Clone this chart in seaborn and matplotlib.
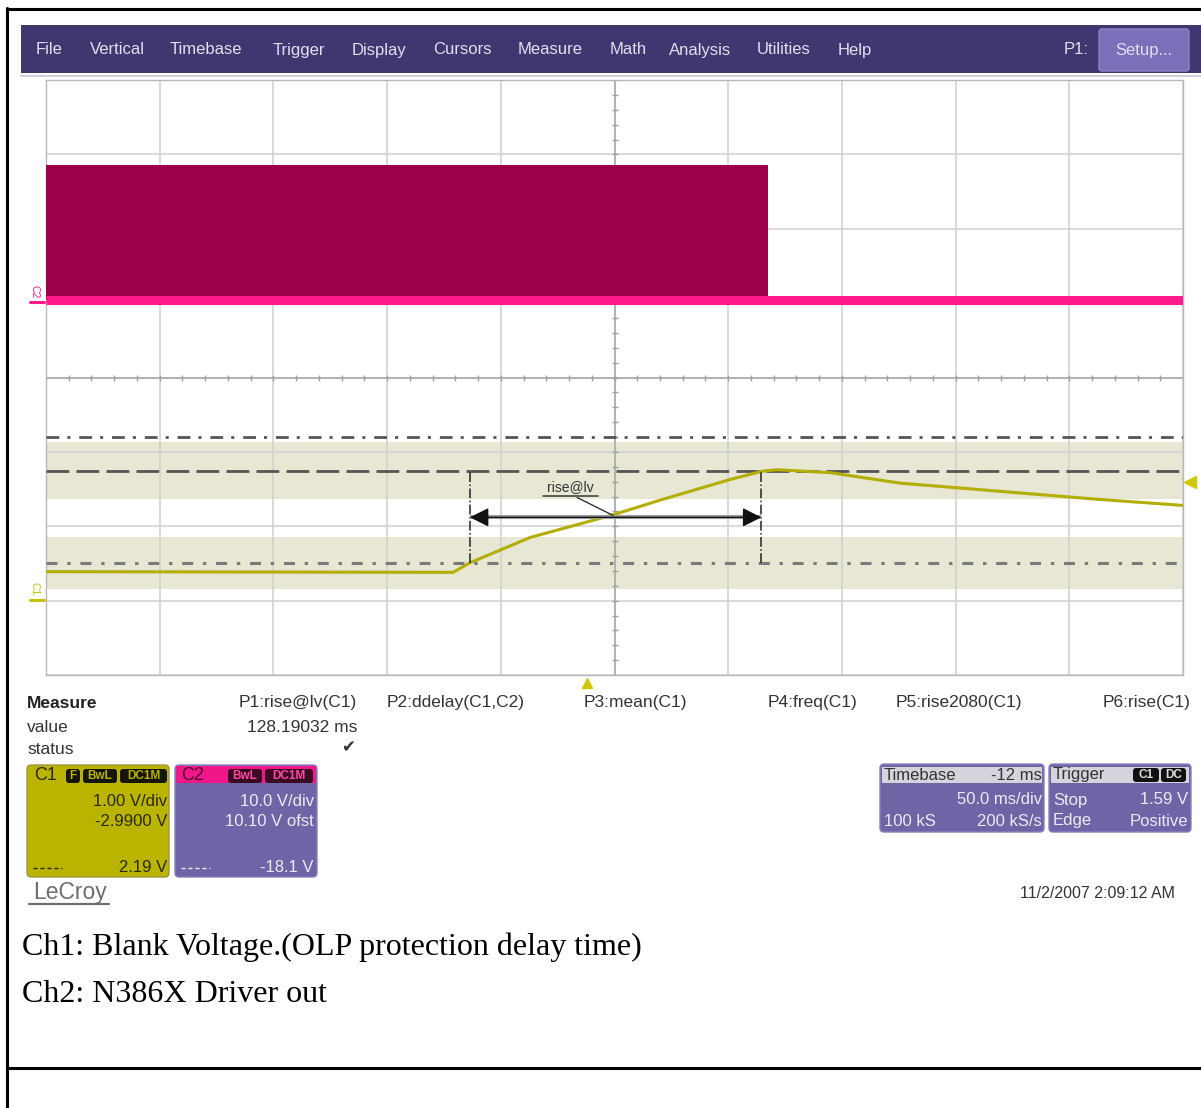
import numpy as np
import pandas as pd
import matplotlib
matplotlib.use("Agg")
import matplotlib.pyplot as plt
from matplotlib.patches import Rectangle, FancyBboxPatch
import seaborn as sns

# ------------------------------------------------------------------
# scope settings
# ------------------------------------------------------------------
ms_per_div = 50.0
trig_delay = -12.0                 # ms, trigger sits left of centre
c1_vdiv, c1_offset = 1.00, -2.99   # V/div, V
c2_vdiv, c2_offset = 10.0, 10.10

# C1: blank voltage (time relative to trigger, ms / volts)
c1_time = [-238, -59, -51.5, -25, 11, 33, 63, 77, 83.5, 107, 137.5, 181.5, 225.5, 262]
c1_volt = [0.38, 0.37, 0.50, 0.84, 1.14, 1.35, 1.62, 1.73, 1.75, 1.71, 1.57, 1.46, 1.35, 1.27]

# C2: N386X driver out, switching burst envelope
c2_time = [-238, 79.5, 79.5, 262]
c2_top = [18.5, 18.5, 0.3, 0.3]
c2_base = [0.3, 0.3, 0.3, 0.3]

# measurement levels on C1 (V)
lvl_top = 2.19
lvl_ref = 1.73
lvl_low = 0.50
band_upper = [1.35, 2.12]
band_lower = [0.14, 0.84]
rise_start = -51.6
rise_value = 128.19032             # ms
rise_arrow_v = 1.11
trig_level = 1.59
label_time, label_volt = -7.3, 1.42
leader_time, leader_volt = 11.4, 1.135

# texts
menu_items = ["File", "Vertical", "Timebase", "Trigger", "Display", "Cursors",
              "Measure", "Math", "Analysis", "Utilities", "Help"]
meas_names = ["P1:rise@lv(C1)", "P2:ddelay(C1,C2)", "P3:mean(C1)",
              "P4:freq(C1)", "P5:rise2080(C1)", "P6:rise(C1)"]
meas_values = ["128.19032 ms", "", "", "", "", ""]
meas_status = ["\u2714", "", "", "", "", ""]
c1_info = ["1.00 V/div", "-2.9900 V", "2.19 V"]
c2_info = ["10.0 V/div", "10.10 V ofst", "-18.1 V"]
tb_info = ["-12 ms", "50.0 ms/div", "100 kS", "200 kS/s"]
trig_info = ["Stop", "1.59 V", "Edge", "Positive"]
timestamp = "11/2/2007 2:09:12 AM"
captions = ["Ch1: Blank Voltage.(OLP protection delay time)", "Ch2: N386X Driver out"]

# ------------------------------------------------------------------
sns.set_theme(style="white")
plt.rcParams["font.family"] = ["Liberation Sans", "DejaVu Sans"]

W, H = 1201, 1108
fig = plt.figure(figsize=(W / 100, H / 100), dpi=100)
fig.patch.set_facecolor("white")

# pixel-space layer for the scope UI
ui = fig.add_axes([0, 0, 1, 1])
ui.set_xlim(0, W)
ui.set_ylim(H, 0)
ui.axis("off")


def box(x, y, w, h, fc, ec="none", r=4, lw=1.0, z=1):
    ui.add_patch(FancyBboxPatch((x, y), w, h, boxstyle=f"round,pad=0,rounding_size={r}",
                                fc=fc, ec=ec, lw=lw, zorder=z))


def txt(x, y, s, size=12.5, color="#222222", ha="left", weight="normal", z=3, family=None):
    kw = {}
    if family is not None:
        kw["family"] = family
    ui.text(x, y, s, fontsize=size, color=color, ha=ha, va="center",
            fontweight=weight, zorder=z, **kw)


# outer table borders
ui.plot([7, 7], [8, H], color="black", lw=2.2)
ui.plot([7, W], [9, 9], color="black", lw=2.2)
ui.plot([7, W], [1068, 1068], color="black", lw=2.2)

# menu bar
ui.add_patch(Rectangle((21, 25), W - 21, 48, fc="#403670", ec="none"))
ui.plot([21, W], [75.5, 75.5], color="#cfcfda", lw=1.5)
menu_x = [36, 90, 170, 273, 352, 433, 518, 610, 669, 757, 838]
for name, x in zip(menu_items, menu_x):
    txt(x, 50, name, size=12, color="#e2e0ee")
txt(1064, 50, "P1:", size=12, color="#e2e0ee")
box(1099, 29, 90, 42, "#7a6fb8", ec="#8e84c8", r=3)
txt(1144, 50, "Setup...", size=12, color="#e2e0ee", ha="center")

# ------------------------------------------------------------------
# graticule / traces
# ------------------------------------------------------------------
px0, py0, px1, py1 = 46, 80, 1183, 675
ax = fig.add_axes([px0 / W, 1 - py1 / H, (px1 - px0) / W, (py1 - py0) / H])
x_center = -trig_delay
x_lo, x_hi = x_center - 5 * ms_per_div, x_center + 5 * ms_per_div
c1_lo = -c1_offset - 4 * c1_vdiv
ax.set_xlim(x_lo, x_hi)
ax.set_ylim(c1_lo, c1_lo + 8 * c1_vdiv)
ax.set_xticks(np.arange(x_lo, x_hi + 1, ms_per_div))
ax.set_yticks(c1_lo + np.arange(9) * c1_vdiv)
ax.set_axisbelow(True)
ax.grid(True, color="#d0d0d0", lw=1.1)
ax.tick_params(length=0, labelbottom=False, labelleft=False)
for sp in ax.spines.values():
    sp.set_color("#b8b8b8")
    sp.set_linewidth(1.0)
ax.set_facecolor("white")

# centre cross with minor ticks
ax.axvline(x_center, color="#a8a8a8", lw=1.1, zorder=0.6)
ax.axhline(-c1_offset, color="#a8a8a8", lw=1.1, zorder=0.6)
minor_x = np.arange(x_lo, x_hi + 0.1, ms_per_div / 5)
ax.plot(minor_x, np.full(len(minor_x), -c1_offset), ls="none", marker="|",
        ms=5, mew=1, color="#a0a0a0", zorder=0.7)
minor_y = c1_lo + np.arange(0, 8.01, 0.2) * c1_vdiv
ax.plot(np.full(len(minor_y), x_center), minor_y, ls="none", marker="_",
        ms=5, mew=1, color="#a0a0a0", zorder=0.7)

# measurement bands and level lines
for lo, hi in (band_lower, band_upper):
    ax.axhspan(lo, hi, color="#e7e7d3", lw=0, zorder=0.2)
ax.axhline(lvl_top, color="#555555", lw=2, ls=(0, (4.6, 2.9, 1.1, 3.2)), zorder=3)
ax.axhline(lvl_ref, color="#555555", lw=2, ls=(0, (8.2, 2.6)), zorder=3)
ax.axhline(lvl_low, color="#7a7a7a", lw=2.2, ls=(0, (3.6, 3.2, 1.1, 3.2)), zorder=3)

# C1 trace
c1_df = pd.DataFrame({"time": c1_time, "volt": c1_volt})
sns.lineplot(data=c1_df, x="time", y="volt", ax=ax, color="#b4ae00", lw=2.2, zorder=5)
ax.set_xlabel("")
ax.set_ylabel("")

# rise@lv marker
rise_end = rise_start + rise_value
ax.vlines([rise_start, rise_end], lvl_low, lvl_ref, colors="#222222", lw=1.1,
          linestyles="dashdot", zorder=6)
ax.hlines(rise_arrow_v, rise_start, rise_end, color="#a0a0a0", lw=3, zorder=6)
ax.annotate("", xy=(rise_start, rise_arrow_v), xytext=(rise_end, rise_arrow_v),
            arrowprops=dict(arrowstyle="<|-|>,head_length=0.9,head_width=0.45",
                            color="#111111", lw=1, shrinkA=0, shrinkB=0,
                            mutation_scale=13), zorder=7)
ax.annotate("rise@lv", xy=(leader_time, leader_volt), xytext=(label_time, label_volt),
            ha="center", va="bottom", fontsize=10, color="#333333", zorder=7,
            arrowprops=dict(arrowstyle="-", color="#333333", lw=1, shrinkA=0, shrinkB=0,
                            relpos=(0.5, 0)))
ax.plot([label_time - 12, label_time + 12], [label_volt - 0.02] * 2, color="#444444", lw=1.2, zorder=7)

# trigger markers and C1 ground
ax.plot([0], [-0.014], transform=ax.get_xaxis_transform(), marker="^", ms=7,
        color="#cfc800", clip_on=False)
ax.plot([1.006], [trig_level], transform=ax.get_yaxis_transform(), marker="<", ms=9,
        color="#cfc800", clip_on=False)
ax.plot([-0.014, -0.002], [0, 0], transform=ax.get_yaxis_transform(), color="#c8c000",
        lw=2.2, clip_on=False)
ax.annotate("C1", xy=(-0.01, 0), xycoords=ax.get_yaxis_transform(), xytext=(0, 3),
            textcoords="offset points", ha="center", va="bottom", fontsize=7.5,
            color="#c8c000", rotation=270)

# C2 on its own vertical scale
ax2 = ax.twinx()
ax2.set_ylim(-c2_offset - 4 * c2_vdiv, -c2_offset + 4 * c2_vdiv)
ax2.set_yticks([])
for sp in ax2.spines.values():
    sp.set_visible(False)
ax2.fill_between(c2_time, c2_base, c2_top, color="#9c004b", lw=0, zorder=2)
ax2.plot(c2_time, c2_base, color="#ff1a8c", lw=6.5, zorder=3, solid_capstyle="butt")
ax2.plot([-0.014, -0.002], [0, 0], transform=ax2.get_yaxis_transform(), color="#ff1a8c",
         lw=2.2, clip_on=False)
ax2.annotate("C2", xy=(-0.01, 0), xycoords=ax2.get_yaxis_transform(), xytext=(0, 3),
             textcoords="offset points", ha="center", va="bottom", fontsize=7.5,
             color="#ff1a8c", rotation=270)

# ------------------------------------------------------------------
# measure row
# ------------------------------------------------------------------
txt(27, 703, "Measure", weight="bold", size=12.5)
txt(27, 727, "value", size=12.5, color="#333333")
txt(27, 750, "status", size=12.5, color="#333333")
col_right = [357, 525, 687, 857, 1022, 1190]
for name, val, st, xr in zip(meas_names, meas_values, meas_status, col_right):
    txt(xr, 703, name, size=12.5, color="#333333", ha="right")
    if val:
        txt(xr, 727, val, size=12.5, color="#333333", ha="right")
    if st:
        txt(xr - 2, 748, st, size=12, color="#333333", ha="right")

# C1 channel box
box(27, 765, 142, 112, "#bab300", ec="#9c9740")
txt(34, 775, "C1", size=13, color="#2a2a00")
for label, x0, w in (("F", 66, 14), ("BwL", 83, 34), ("DC1M", 120, 47)):
    box(x0, 769, w, 14, "#151500", r=3, z=2)
    txt(x0 + w / 2, 776, label, size=8.5, color="#bab300", ha="center", weight="bold")
txt(167, 801, c1_info[0], size=12, color="#2a2a00", ha="right")
txt(167, 822, c1_info[1], size=12, color="#2a2a00", ha="right")
txt(167, 867, c1_info[2], size=12, color="#2a2a00", ha="right")
ui.plot([33, 62], [868, 868], color="#2a2a00", lw=1, ls=(0, (3, 2)))

# C2 channel box
box(175, 765, 142, 112, "#6f64a6", ec="#8a80c0")
ui.add_patch(Rectangle((176, 766), 140, 17, fc="#f0178a", ec="none", zorder=1.5))
txt(181, 775, "C2", size=13, color="#5a0030")
for label, x0, w in (("BwL", 228, 34), ("DC1M", 265, 48)):
    box(x0, 769, w, 14, "#3a0a22", r=3, z=2)
    txt(x0 + w / 2, 776, label, size=8.5, color="#ff4aa0", ha="center", weight="bold")
txt(314, 801, c2_info[0], size=12, color="#ecebf5", ha="right")
txt(314, 821, c2_info[1], size=12, color="#ecebf5", ha="right")
txt(314, 867, c2_info[2], size=12, color="#ecebf5", ha="right")
ui.plot([181, 210], [868, 868], color="#ecebf5", lw=1, ls=(0, (3, 2)))

# LeCroy logo
txt(33, 892, "LeCroy", size=16.5, color="#6e6e6e")
ui.plot([29, 109], [904, 904], color="#6e6e6e", lw=1.6)

# timebase box
box(880, 764, 164, 68, "#6f64a6", ec="#8a80c0")
ui.add_patch(Rectangle((882, 767), 160, 16, fc="#d4d4dc", ec="none", zorder=1.5))
txt(884, 775, "Timebase", size=12, color="#333333")
txt(1042, 775, tb_info[0], size=12, color="#333333", ha="right")
txt(1042, 800, tb_info[1], size=12, color="#ecebf5", ha="right")
txt(884, 821, tb_info[2], size=12, color="#ecebf5")
txt(1042, 821, tb_info[3], size=12, color="#ecebf5", ha="right")

# trigger box
box(1049, 764, 142, 68, "#6f64a6", ec="#8a80c0")
ui.add_patch(Rectangle((1051, 767), 138, 16, fc="#d4d4dc", ec="none", zorder=1.5))
txt(1053, 775, "Trigger", size=12, color="#333333")
for label, x0, w in (("C1", 1133, 26), ("DC", 1161, 25)):
    box(x0, 768, w, 14, "#111111", r=3, z=2)
    txt(x0 + w / 2, 775, label, size=8.5, color="#dcdcdc", ha="center", weight="bold")
txt(1053, 800, trig_info[0], size=12, color="#ecebf5")
txt(1188, 800, trig_info[1], size=12, color="#ecebf5", ha="right")
txt(1053, 821, trig_info[2], size=12, color="#ecebf5")
txt(1188, 821, trig_info[3], size=12, color="#ecebf5", ha="right")

txt(1175, 893, timestamp, size=11.5, color="#333333", ha="right")

# captions below the screenshot
for i, line in enumerate(captions):
    txt(22, 947 + 48 * i, line, size=23, color="black", family="Liberation Serif")

fig.savefig("out.png", dpi=100)
